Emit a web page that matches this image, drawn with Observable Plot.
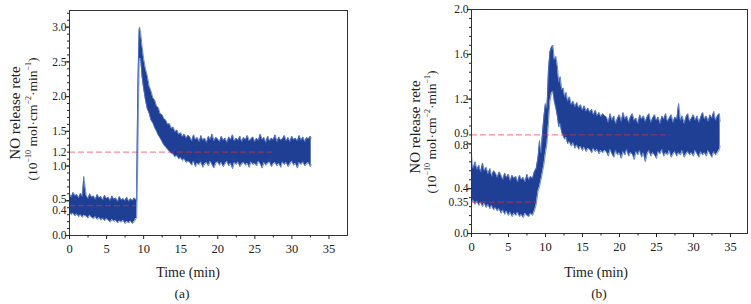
<!DOCTYPE html>
<html>
<head>
<meta charset="utf-8">
<script src="https://cdn.jsdelivr.net/npm/d3@7"></script>
<script src="https://cdn.jsdelivr.net/npm/@observablehq/plot@0.6"></script>
<style>
  html, body { margin: 0; padding: 0; background: #fff; }
  #wrap { display: flex; width: 751px; height: 304px; }
</style>
</head>
<body>
<div id="wrap"></div>
<script>
// ---------- Panel (a) data: time (min), upper and lower envelope of the noisy signal ----------
const tA = [0,0.25,0.5,0.75,1,1.25,1.5,1.75,1.93,2.25,2.5,2.75,3,3.25,3.5,3.75,4,4.25,4.5,4.75,5,5.25,5.5,5.75,6,6.25,6.5,6.75,7,7.25,7.5,7.75,8,8.25,8.5,8.75,8.95,
  9.05,9.1,9.2,9.3,9.4,9.45,9.6,9.8,
  10,10.25,10.5,10.75,11,11.25,11.5,11.75,12,12.25,12.5,12.75,13,13.25,13.5,13.75,14,14.25,14.5,14.75,15,15.25,15.5,15.75,16,
  16.25,16.5,16.75,17,17.25,17.5,17.75,18,18.25,18.5,18.75,19,19.25,19.5,19.75,20,
  20.25,20.5,20.75,21,21.25,21.5,21.75,22,22.25,22.5,22.75,23,23.25,23.5,23.75,24,
  24.25,24.5,24.75,25,25.25,25.5,25.75,26,26.25,26.5,26.75,27,27.25,27.5,27.75,28,
  28.25,28.5,28.75,29,29.25,29.5,29.75,30,30.25,30.5,30.75,31,31.25,31.5,31.75,32,
  32.25,32.5,32.6];
const hiA = [0.60,0.55,0.62,0.57,0.59,0.54,0.61,0.56,0.85,0.58,0.53,0.60,0.55,0.57,0.52,0.59,0.54,0.56,0.51,0.58,0.53,0.55,0.50,0.57,0.52,0.54,0.49,0.56,0.51,0.53,0.50,0.55,0.49,0.53,0.50,0.54,0.52,
  0.50,1.00,2.00,2.55,2.95,3.00,2.92,2.72,
  2.55,2.40,2.30,2.15,2.08,1.98,1.95,1.86,1.84,1.75,1.74,1.68,1.66,1.60,1.61,1.54,1.56,1.49,1.52,1.45,1.48,1.42,1.46,1.40,1.44,
  1.42,1.36,1.45,1.38,1.41,1.35,1.44,1.37,1.40,1.34,1.43,1.38,1.46,1.36,1.41,1.39,
  1.35,1.43,1.37,1.40,1.34,1.42,1.38,1.45,1.36,1.40,1.37,1.43,1.35,1.41,1.38,1.44,
  1.36,1.39,1.42,1.35,1.40,1.37,1.46,1.38,1.41,1.34,1.43,1.36,1.40,1.38,1.45,1.35,
  1.42,1.37,1.39,1.44,1.36,1.41,1.35,1.43,1.38,1.40,1.36,1.44,1.37,1.42,1.35,1.41,
  1.39,1.43,1.40];
const loA = [0.34,0.30,0.32,0.28,0.31,0.27,0.30,0.26,0.29,0.28,0.25,0.29,0.26,0.24,0.27,0.23,0.26,0.22,0.25,0.21,0.24,0.22,0.19,0.23,0.20,0.22,0.18,0.21,0.19,0.22,0.17,0.20,0.18,0.21,0.17,0.20,0.24,
  0.25,0.45,1.00,1.80,2.50,2.55,2.55,2.28,
  2.12,1.95,1.82,1.76,1.66,1.62,1.55,1.50,1.44,1.40,1.35,1.30,1.27,1.24,1.21,1.18,1.17,1.13,1.15,1.10,1.12,1.08,1.10,1.05,1.07,
  1.05,1.01,1.07,0.99,1.04,1.02,1.06,0.98,1.03,1.05,1.00,1.07,1.02,0.97,1.04,1.06,
  1.01,1.05,0.99,1.03,1.07,1.00,1.04,0.96,1.05,1.02,1.06,0.99,1.03,1.05,1.01,1.04,
  0.98,1.06,1.02,1.04,1.00,1.07,1.03,0.97,1.05,1.01,1.04,1.06,0.99,1.03,1.05,1.00,
  1.04,0.98,1.06,1.02,1.05,0.99,1.03,1.07,1.01,1.04,0.97,1.05,1.02,1.06,1.00,1.03,
  1.05,0.99,1.02];
const refLevelsA = [1.2, 0.43];
const refEndsA = [27.4, 9.05];
const yLabelsA = [0, 0.4, 0.5, 1.0, 1.2, 1.5, 2.0, 2.5, 3.0];
const yLabelTextA = ["0.0", "0.4", "0.5", "1.0", "1.2", "1.5", "2.0", "2.5", "3.0"];
const yLabelDyA = [0, 3, -1.5, 0, 0, 0, 0, 0, 0];
const yMajorA = [0, 0.5, 1.0, 1.5, 2.0, 2.5, 3.0];

// ---------- Panel (b) data ----------
const tB = [0,0.1,0.25,0.5,0.75,1,1.25,1.5,1.75,2,2.25,2.5,2.75,3,3.25,3.5,3.75,4,4.25,4.5,4.75,5,5.25,5.5,5.75,6,6.25,6.5,6.75,7,7.25,7.5,7.75,8,8.25,8.5,8.75,
  9.0,9.2,9.4,9.6,9.8,10.0,10.2,10.4,10.6,10.8,11.0,11.2,11.4,11.6,11.8,12.0,12.2,12.4,12.6,12.8,13.0,
  13.25,13.5,13.75,14,14.25,14.5,14.75,15,15.25,15.5,15.75,16,16.25,16.5,16.75,17,17.25,17.5,17.75,18,
  18.25,18.5,18.75,19,19.25,19.5,19.75,20,20.25,20.5,20.75,21,21.25,21.5,21.75,22,
  22.25,22.5,22.75,23,23.25,23.5,23.75,24,24.25,24.5,24.75,25,25.25,25.5,25.75,26,
  26.25,26.5,26.75,27,27.25,27.5,27.75,28,28.25,28.5,28.75,29,29.25,29.5,29.75,30,
  30.25,30.5,30.75,31,31.25,31.5,31.75,32,32.25,32.5,32.75,33,33.25,33.5,33.6];
const hiB = [0.71,0.62,0.58,0.64,0.57,0.61,0.55,0.63,0.56,0.59,0.53,0.58,0.51,0.56,0.54,0.50,0.55,0.52,0.48,0.54,0.50,0.53,0.47,0.52,0.49,0.51,0.46,0.52,0.48,0.50,0.46,0.53,0.48,0.51,0.49,0.55,0.58,
  0.68,0.83,0.72,0.90,1.05,1.16,1.12,1.45,1.62,1.66,1.68,1.55,1.58,1.50,1.35,1.40,1.28,1.30,1.22,1.26,1.18,
  1.22,1.15,1.18,1.13,1.17,1.12,1.15,1.10,1.14,1.09,1.12,1.08,1.11,1.06,1.10,1.05,1.08,1.04,1.07,1.05,
  1.04,0.99,1.07,1.01,1.05,0.98,1.03,1.06,1.00,1.08,1.02,1.05,0.99,1.04,1.07,1.01,
  1.03,0.98,1.06,1.02,1.05,1.00,1.04,1.07,0.99,1.03,1.06,1.01,1.04,0.98,1.05,1.02,
  1.07,1.00,1.03,1.06,0.99,1.04,1.02,1.16,1.01,1.05,0.98,1.04,1.07,1.00,1.03,1.06,
  1.01,1.05,0.99,1.04,1.08,1.02,1.05,1.00,1.06,1.03,1.09,1.01,1.05,1.07,1.00];
const loB = [0.32,0.28,0.30,0.26,0.29,0.25,0.28,0.24,0.27,0.23,0.26,0.22,0.25,0.21,0.23,0.20,0.22,0.18,0.21,0.17,0.20,0.16,0.19,0.15,0.18,0.16,0.19,0.15,0.17,0.14,0.18,0.16,0.15,0.18,0.16,0.20,0.26,
  0.38,0.42,0.48,0.55,0.62,0.72,0.80,0.98,1.18,1.25,1.27,1.18,1.12,1.05,0.95,0.98,0.90,0.87,0.84,0.86,0.80,
  0.82,0.78,0.81,0.76,0.79,0.75,0.78,0.74,0.77,0.73,0.76,0.75,0.72,0.76,0.73,0.75,0.71,0.74,0.72,0.74,
  0.73,0.69,0.75,0.71,0.68,0.74,0.70,0.72,0.67,0.73,0.70,0.75,0.69,0.72,0.71,0.66,
  0.73,0.70,0.74,0.68,0.72,0.64,0.71,0.74,0.69,0.72,0.70,0.67,0.73,0.71,0.75,0.69,
  0.72,0.70,0.74,0.68,0.71,0.73,0.69,0.72,0.70,0.74,0.68,0.71,0.73,0.70,0.72,0.69,
  0.74,0.71,0.68,0.73,0.70,0.72,0.69,0.74,0.71,0.68,0.73,0.70,0.72,0.75,0.78];
const refLevelsB = [0.88, 0.28];
const refEndsB = [26.9, 8.8];
const yLabelsB = [0, 0.35, 0.4, 0.8, 0.9, 1.2, 1.6, 2.0];
const yLabelTextB = ["0.0", "0.35", "0.4", "0.8", "0.9", "1.2", "1.6", "2.0"];
const yLabelDyB = [0, 8, 0, 1, 0.5, 0, 0, 0];
const yMajorB = [0, 0.4, 0.8, 1.2, 1.6, 2.0];

const xMajor = [0, 5, 10, 15, 20, 25, 30, 35];
const xMinor = [2.5, 7.5, 12.5, 17.5, 22.5, 27.5, 32.5];

const FONT = "'Liberation Serif', 'Times New Roman', serif";

function makePanel(o) {
  const data = o.t.map((t, i) => ({t, hi: o.hi[i], lo: o.lo[i]}));
  const svg = Plot.plot({
    width: o.width, height: 304,
    marginLeft: o.ml, marginRight: o.mr, marginTop: o.mt, marginBottom: o.mb,
    style: {fontFamily: FONT, fontSize: "11.5px", color: "#222", background: "#fff", overflow: "visible"},
    x: {domain: o.xDomain},
    y: {domain: o.yDomain},
    marks: [
      Plot.areaY(data, {x: "t", y1: "lo", y2: "hi", fill: "#1e3f94"}),
      Plot.line(data, {x: "t", y: "hi", stroke: "#5275c6", strokeWidth: 0.8}),
      Plot.line(data, {x: "t", y: "lo", stroke: "#5275c6", strokeWidth: 0.8}),
      Plot.ruleY(o.refLevels, {y: d => d, x1: 0, x2: (d, i) => o.refEnds[i], stroke: "#e83040", strokeOpacity: 0.55, strokeDasharray: "6,3", strokeWidth: 1.2}),
      Plot.frame({stroke: "#333"}),
      Plot.axisX(xMajor, {tickSize: 4, tickPadding: 5, tickFormat: d => String(d), label: null, fontSize: 12.5}),
      Plot.axisX(xMinor, {tickSize: 2.5, text: null, label: null}),
      Plot.axisY(o.yMinor, {tickSize: 2, text: null, label: null}),
      Plot.axisY(o.yMajor, {tickSize: 4, text: null, label: null}),
      ...o.yLabels.map((v, i) => Plot.axisY([v], {tickSize: 0, tickPadding: 3, dy: o.yLabelDy[i], tickFormat: () => o.yLabelText[i], label: null, fontSize: 11.5}))
    ]
  });
  const s = d3.select(svg);
  s.append("text")
    .attr("transform", `translate(${o.yt1x},${o.yt1y}) rotate(-90)`)
    .attr("text-anchor", "middle").attr("dominant-baseline", "central")
    .attr("font-family", FONT).attr("font-size", 15).attr("fill", "#222")
    .text("NO release rete");
  const g2 = s.append("text")
    .attr("transform", `translate(${o.yt2x},${o.yt2y}) rotate(-90)`)
    .attr("text-anchor", "middle").attr("dominant-baseline", "central")
    .attr("font-family", FONT).attr("font-size", 13.5).attr("fill", "#222");
  g2.append("tspan").text("(10");
  g2.append("tspan").attr("dy", -4).attr("font-size", 8).text("−10");
  g2.append("tspan").attr("dy", 4).text(" mol·cm");
  g2.append("tspan").attr("dy", -4).attr("font-size", 8).text("−2");
  g2.append("tspan").attr("dy", 4).text("·min");
  g2.append("tspan").attr("dy", -4).attr("font-size", 8).text("−1");
  g2.append("tspan").attr("dy", 4).text(")");
  s.append("text").attr("x", o.xtx).attr("y", o.xty)
    .attr("text-anchor", "middle").attr("dominant-baseline", "central")
    .attr("font-family", FONT).attr("font-size", 14).attr("fill", "#222")
    .text("Time (min)");
  s.append("text").attr("x", o.capx).attr("y", 293)
    .attr("text-anchor", "middle").attr("dominant-baseline", "central")
    .attr("font-family", FONT).attr("font-size", 13.5).attr("fill", "#222")
    .text(o.caption);
  return svg;
}

const wrap = document.getElementById("wrap");
wrap.append(makePanel({
  t: tA, hi: hiA, lo: loA, refLevels: refLevelsA, refEnds: refEndsA,
  yLabels: yLabelsA, yLabelText: yLabelTextA, yLabelDy: yLabelDyA,
  yMajor: yMajorA, yMinor: d3.range(0, 3.25, 0.1),
  width: 375, ml: 69, mr: 28, mt: 10, mb: 69,
  xDomain: [0, 37.5], yDomain: [0, 3.24],
  yt1x: 15, yt1y: 113, yt2x: 32, yt2y: 119,
  xtx: 188, xty: 272, capx: 182, caption: "(a)"
}));
wrap.append(makePanel({
  t: tB, hi: hiB, lo: loB, refLevels: refLevelsB, refEnds: refEndsB,
  yLabels: yLabelsB, yLabelText: yLabelTextB, yLabelDy: yLabelDyB,
  yMajor: yMajorB, yMinor: d3.range(0, 2.01, 0.08),
  width: 376, ml: 96, mr: 4, mt: 9, mb: 71,
  xDomain: [0, 37.3], yDomain: [0, 2.0],
  yt1x: 40, yt1y: 127, yt2x: 56, yt2y: 132,
  xtx: 221, xty: 272, capx: 224, caption: "(b)"
}));
</script>
</body>
</html>
